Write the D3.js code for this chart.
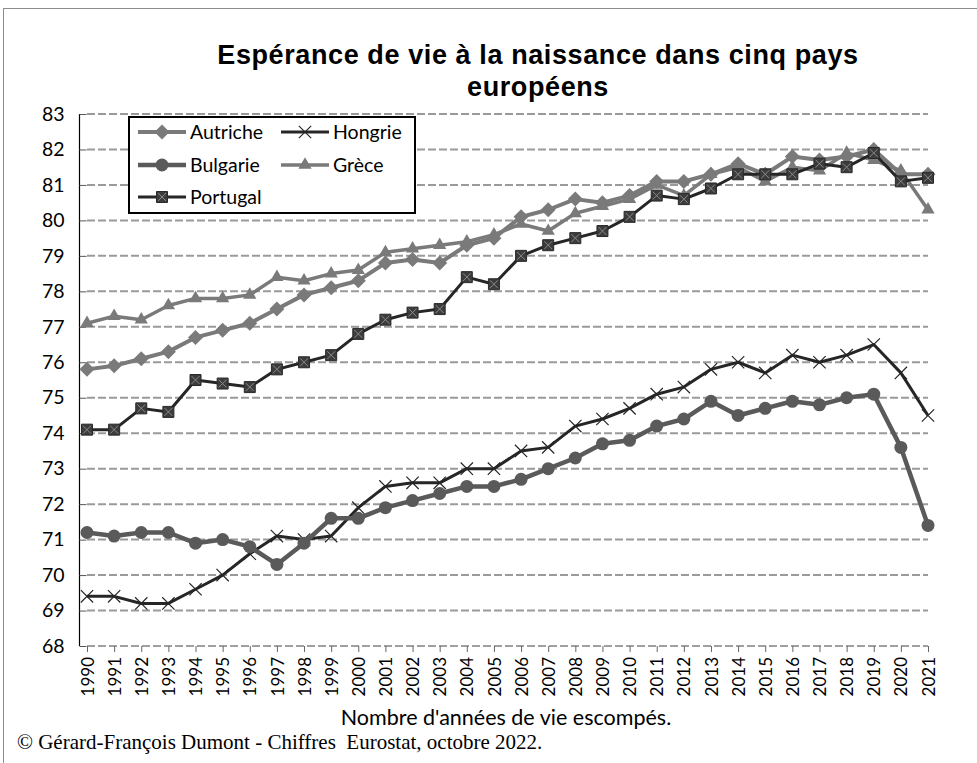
<!DOCTYPE html>
<html><head><meta charset="utf-8">
<script src="https://cdn.jsdelivr.net/npm/d3@7"></script>
<style>
html,body{margin:0;padding:0;background:#fff;}
svg{display:block;}
</style></head>
<body>
<svg id="c" width="977" height="763"></svg>
<script>
const years = d3.range(1990, 2022);
const yTicks = d3.range(68, 84, 1);
const autriche = [75.8,75.9,76.1,76.3,76.7,76.9,77.1,77.5,77.9,78.1,78.3,78.8,78.9,78.8,79.3,79.5,80.1,80.3,80.6,80.5,80.7,81.1,81.1,81.3,81.6,81.3,81.8,81.7,81.8,82.0,81.3,81.3];
const hongrie = [69.4,69.4,69.2,69.2,69.6,70.0,70.6,71.1,71.0,71.1,71.9,72.5,72.6,72.6,73.0,73.0,73.5,73.6,74.2,74.4,74.7,75.1,75.3,75.8,76.0,75.7,76.2,76.0,76.2,76.5,75.7,74.5];
const bulgarie = [71.2,71.1,71.2,71.2,70.9,71.0,70.8,70.3,70.9,71.6,71.6,71.9,72.1,72.3,72.5,72.5,72.7,73.0,73.3,73.7,73.8,74.2,74.4,74.9,74.5,74.7,74.9,74.8,75.0,75.1,73.6,71.4];
const grece = [77.1,77.3,77.2,77.6,77.8,77.8,77.9,78.4,78.3,78.5,78.6,79.1,79.2,79.3,79.4,79.6,79.9,79.7,80.2,80.4,80.6,81.0,80.7,81.3,81.5,81.1,81.5,81.4,81.9,81.7,81.4,80.3];
const portugal = [74.1,74.1,74.7,74.6,75.5,75.4,75.3,75.8,76.0,76.2,76.8,77.2,77.4,77.5,78.4,78.2,79.0,79.3,79.5,79.7,80.1,80.7,80.6,80.9,81.3,81.3,81.3,81.6,81.5,81.9,81.1,81.2];
const seriesNames = ["Autriche","Hongrie","Bulgarie","Grèce","Portugal"];
const seriesValues = [autriche, hongrie, bulgarie, grece, portugal];

const title1 = "Espérance de vie à la naissance dans cinq pays";
const title2 = "européens";
const xTitle = "Nombre d'années de vie escompés.";
const footer = "© Gérard-François Dumont - Chiffres  Eurostat, octobre 2022.";

const styles = {
  "Autriche": {color:"#7a7a7a", width:4, marker:"diamond", mfill:"#7a7a7a", msize:15},
  "Hongrie":  {color:"#262626", width:3, marker:"times", mfill:"none", msize:12},
  "Bulgarie": {color:"#5a5a5a", width:4.5, marker:"circle", mfill:"#5a5a5a", msize:13},
  "Grèce":    {color:"#7a7a7a", width:3.5, marker:"triangle", mfill:"#7a7a7a", msize:13},
  "Portugal": {color:"#262626", width:3, marker:"square", mfill:"#3c3c3c", msize:11}
};

const svg = d3.select("#c");
const calibri = "Lato, 'Open Sans', sans-serif";

// outer border
svg.append("rect").attr("x",3.5).attr("y",8.5).attr("width",1000).attr("height",800)
  .attr("fill","none").attr("stroke","#8c8c8c").attr("stroke-width",1);

const x = d3.scalePoint().domain(years).range([87, 928]);
const y = d3.scaleLinear().domain([68, 83]).range([646, 114]);

// gridlines
svg.append("g").selectAll("line").data(yTicks).join("line")
  .attr("x1", 87).attr("x2", 928)
  .attr("y1", d => y(d)).attr("y2", d => y(d))
  .attr("stroke", d => d === 68 ? "#404040" : "#9a9a9a")
  .attr("stroke-width", d => d === 68 ? 1 : 2)
  .attr("stroke-dasharray", "8,3");

// y axis
const yAxis = d3.axisLeft(y).tickValues(yTicks).tickSize(7).tickPadding(15).tickFormat(d3.format("d"));
const gy = svg.append("g").attr("transform","translate(86.5,0)").call(yAxis);
gy.select(".domain").attr("stroke","#000").attr("stroke-width",1.2).attr("d","M-7,114V646");
gy.selectAll(".tick line").attr("stroke","#555");
gy.selectAll("text").attr("font-family",calibri).attr("font-size",19.5).attr("fill","#000");

// x axis
const xAxis = d3.axisBottom(x).tickSize(6).tickPadding(4);
const gx = svg.append("g").attr("transform","translate(0,646)").call(xAxis);
gx.select(".domain").remove();
gx.selectAll(".tick line").attr("stroke","#666");
gx.selectAll("text").attr("font-family",calibri).attr("font-size",17).attr("fill","#000")
  .attr("text-anchor","end").attr("transform","rotate(-90)")
  .attr("x",-11).attr("y",0).attr("dy","0.36em");

// symbols
function markerPath(kind, size) {
  if (kind === "diamond") return d3.symbol(d3.symbolSquare, size*size/2)();
  if (kind === "times") return d3.symbol(d3.symbolTimes, size*size*0.7)();
  if (kind === "circle") return d3.symbol(d3.symbolCircle, Math.PI*size*size/4)();
  if (kind === "triangle") return d3.symbol(d3.symbolTriangle, size*size*0.45)();
  if (kind === "square") return d3.symbol(d3.symbolSquare, size*size)();
}
function drawMarker(g, kind, st, cx, cy) {
  const p = g.append("path").attr("d", markerPath(kind, st.msize))
    .attr("transform", `translate(${cx},${cy})` + (kind==="diamond" ? " rotate(45)" : ""));
  if (kind === "times") {
    p.attr("fill","none").attr("stroke", "#262626").attr("stroke-width",1.2);
  } else if (kind === "square") {
    p.attr("fill", st.mfill).attr("stroke","#2a2a2a").attr("stroke-width",1);
    g.append("path").attr("d", d3.symbol(d3.symbolTimes, st.msize*st.msize*0.35)())
      .attr("transform", `translate(${cx},${cy})`)
      .attr("fill","none").attr("stroke","#8a8a8a").attr("stroke-width",1);
  } else {
    p.attr("fill", st.mfill).attr("stroke","none");
  }
}

const line = d3.line().x((d,i) => x(years[i])).y(d => y(d));
seriesNames.forEach((name, si) => {
  const st = styles[name];
  const g = svg.append("g");
  g.append("path").datum(seriesValues[si]).attr("d", line)
    .attr("fill","none").attr("stroke", st.color).attr("stroke-width", st.width)
    .attr("stroke-linejoin","round");
  seriesValues[si].forEach((v,i) => drawMarker(g, st.marker, st, x(years[i]), y(v)));
});

// legend
const lg = svg.append("g");
lg.append("rect").attr("x",129).attr("y",117).attr("width",286).attr("height",96)
  .attr("fill","#fff").attr("stroke","#000").attr("stroke-width",2);
const legendPos = [[138,132],[281,132],[138,165],[281,165],[138,197]];
seriesNames.forEach((name, i) => {
  const st = styles[name];
  const [lx, ly] = legendPos[i];
  lg.append("line").attr("x1",lx).attr("x2",lx+48).attr("y1",ly).attr("y2",ly)
    .attr("stroke",st.color).attr("stroke-width",st.width);
  drawMarker(lg, st.marker, st, lx+24, ly);
  lg.append("text").attr("x",lx+52).attr("y",ly).attr("dy","0.36em")
    .attr("font-family",calibri).attr("font-size",19.5).attr("fill","#000").text(name);
});

// titles
const tf = "'Liberation Sans', Arial, sans-serif";
svg.append("text").attr("x",538).attr("y",64).attr("text-anchor","middle")
  .attr("font-family",tf).attr("font-weight","bold").attr("letter-spacing",0.6)
  .attr("font-size",27).attr("fill","#000").text(title1);
svg.append("text").attr("x",538).attr("y",96).attr("text-anchor","middle")
  .attr("font-family",tf).attr("font-weight","bold").attr("letter-spacing",0.6)
  .attr("font-size",27).attr("fill","#000").text(title2);

svg.append("text").attr("x",506).attr("y",725).attr("text-anchor","middle")
  .attr("font-family",calibri).attr("font-size",21.5).attr("fill","#000").text(xTitle);

svg.append("text").attr("x",17).attr("y",749).style("white-space","pre")
  .attr("font-family","'Liberation Serif', 'Times New Roman', serif")
  .attr("font-size",21).attr("fill","#000").text(footer);
</script>
</body></html>
